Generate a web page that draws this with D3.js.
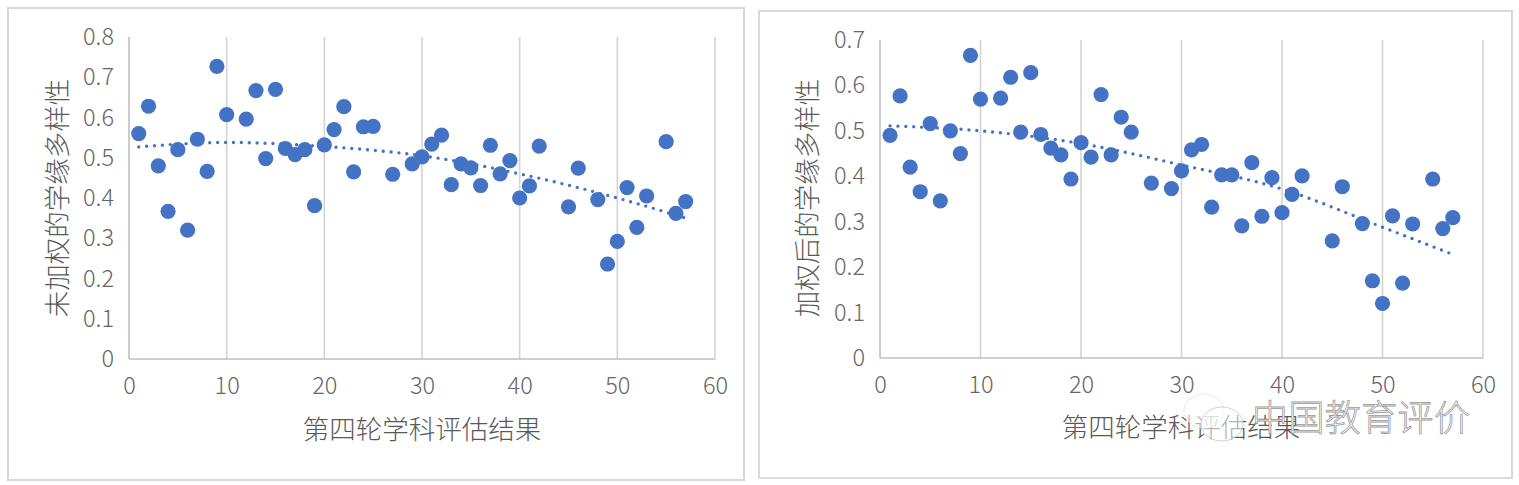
<!DOCTYPE html>
<html><head><meta charset="utf-8">
<script src="https://cdnjs.cloudflare.com/ajax/libs/d3/7.8.5/d3.min.js"></script>
<style>html,body{margin:0;padding:0;background:#fff}svg{display:block}</style></head>
<body><svg id="c" width="1519" height="485"></svg>
<script>
const xValues=[1,2,3,4,5,6,7,8,9,10,12,13,14,15,16,17,18,19,20,21,22,23,24,25,27,29,30,31,32,33,34,35,36,37,38,39,40,41,42,45,46,48,49,50,51,52,53,55,56,57];
const unweighted=[.56,.628,.48,.367,.52,.32,.546,.466,.727,.607,.596,.667,.498,.67,.523,.508,.52,.381,.532,.57,.627,.465,.577,.578,.459,.485,.502,.534,.556,.433,.485,.475,.431,.531,.46,.493,.4,.43,.529,.378,.474,.396,.236,.292,.426,.327,.405,.54,.362,.391];
const weighted=[.49,.577,.42,.366,.516,.346,.5,.45,.666,.57,.572,.618,.497,.628,.492,.462,.447,.394,.474,.442,.58,.447,.53,.497,.385,.373,.412,.458,.47,.332,.403,.403,.291,.43,.312,.397,.32,.36,.401,.258,.377,.296,.17,.12,.313,.165,.295,.394,.285,.309];
const trendX=[1,10,20,30,40,50,57];
const trendUnweighted=[.527,.538,.528,.505,.46,.4,.35];
const trendWeighted=[.511,.5,.472,.425,.372,.288,.228];
const xTicks=[0,10,20,30,40,50,60];
const yTicksLeft=[0,.1,.2,.3,.4,.5,.6,.7,.8];
const yTicksRight=[0,.1,.2,.3,.4,.5,.6,.7];
const xTitle="第四轮学科评估结果";
const yTitleLeft="未加权的学缘多样性";
const yTitleRight="加权后的学缘多样性";
const watermark="中国教育评价";

const FONT='"Noto Sans CJK SC","Noto Sans",sans-serif';
const svg=d3.select("#c");
const yFmt=d=>d===0?"0":d.toFixed(1);

function panel(o){
  const g=svg.append("g");
  g.append("rect").attr("x",o.frame[0]).attr("y",o.frame[1]).attr("width",o.frame[2]).attr("height",o.frame[3])
    .attr("fill","#fff").attr("stroke","#d9d9d9").attr("stroke-width",2);
  const x=d3.scaleLinear().domain([0,60]).range(o.xr);
  const y=d3.scaleLinear().domain(o.yd).range(o.yr);
  xTicks.forEach(t=>{
    g.append("line").attr("x1",x(t)).attr("x2",x(t)).attr("y1",o.yr[1]).attr("y2",o.yr[0])
      .attr("stroke",t===0?"#bfbfbf":"#d4d4d4").attr("stroke-width",1.6);
  });
  g.append("line").attr("x1",o.xr[0]).attr("x2",o.xr[1]).attr("y1",o.yr[0]).attr("y2",o.yr[0]).attr("stroke","#bfbfbf").attr("stroke-width",1.6);
  const xa=g.append("g").attr("transform",`translate(0,${o.yr[0]})`)
    .call(d3.axisBottom(x).tickValues(xTicks).tickSize(0).tickPadding(o.xPad));
  const ya=g.append("g").attr("transform",`translate(${o.xr[0]},0)`)
    .call(d3.axisLeft(y).tickValues(o.yt).tickFormat(yFmt).tickSize(0).tickPadding(o.yPad));
  [xa,ya].forEach(a=>{a.select(".domain").remove();
    a.selectAll("text").attr("font-family",FONT).attr("font-size",o.tickSize).attr("font-weight",300).attr("fill","#666");});
  const line=d3.line().x((d,i)=>x(trendX[i])).y(d=>y(d)).curve(d3.curveMonotoneX);
  g.append("g").selectAll("circle").data(o.vals).join("circle")
    .attr("cx",(d,i)=>x(xValues[i])).attr("cy",d=>y(d)).attr("r",7.6).attr("fill","#4472c4");
  g.append("path").attr("d",line(o.trend)).attr("fill","none").attr("stroke","#4472c4")
    .attr("stroke-width",3.4).attr("stroke-linecap","round").attr("stroke-dasharray","0 7.9");
  g.append("text").attr("x",o.xtx).attr("y",o.xty).attr("text-anchor","middle").attr("font-family",FONT)
    .attr("font-size",26.5).attr("font-weight",300).attr("fill","#595959").text(xTitle);
  g.append("text").attr("transform",`translate(${o.ytx},${o.yty}) rotate(-90)`).attr("text-anchor","middle")
    .attr("font-family",FONT).attr("font-size",26.5).attr("font-weight",300).attr("fill","#595959").text(o.ytitle);
}
panel({frame:[8,8,736,472],xr:[129,715],yr:[359,37],yd:[0,.8],yt:yTicksLeft,vals:unweighted,trend:trendUnweighted,
  xPad:18,yPad:15,tickSize:23.5,xtx:422,xty:439,ytx:67,yty:198,ytitle:yTitleLeft});
panel({frame:[759,11,753,467],xr:[880,1483],yr:[358,40],yd:[0,.7],yt:yTicksRight,vals:weighted,trend:trendWeighted,
  xPad:18,yPad:15,tickSize:23.5,xtx:1181,xty:437,ytx:817,yty:198,ytitle:yTitleRight});

// watermark
const wm=svg.append("g").attr("fill","#fff").attr("fill-opacity",.55).attr("stroke","#9a9a9a").attr("stroke-width",.8);
wm.append("ellipse").attr("cx",1204).attr("cy",411).attr("rx",20).attr("ry",17).attr("stroke","#e2e2e2");
wm.append("ellipse").attr("cx",1222).attr("cy",424).attr("rx",21).attr("ry",17).attr("stroke","#c4c4c4");
wm.append("text").attr("x",1252).attr("y",431).attr("font-family",FONT).attr("font-size",36).attr("font-weight",300)
  .attr("fill-opacity",1).attr("textLength",218).text(watermark);
</script></body></html>
